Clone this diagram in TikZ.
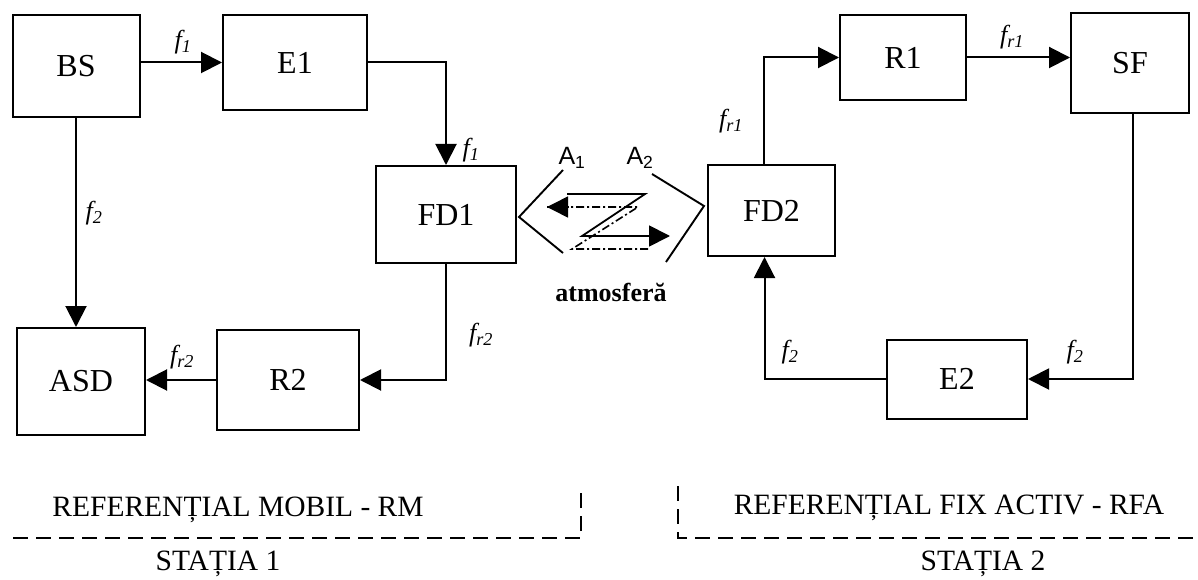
\documentclass[tikz,border=0pt]{standalone}
\usepackage{fontspec}
\setmainfont{Liberation Serif}
\newfontfamily\labelsans{Liberation Sans}
\usetikzlibrary{arrows.meta}
\tikzset{
  blk/.style={draw, line width=2pt, rectangle, inner sep=0pt,
    font=\fontsize{32}{36}\selectfont},
  wire/.style={line width=2pt},
  arr/.style={wire, -{Triangle[length=21pt,width=21pt]}},
  flabel/.style={font=\fontsize{26}{30}\selectfont\itshape, inner sep=0pt},
  alabel/.style={font=\fontsize{25}{29}\labelsans, inner sep=0pt},
  ant/.style={line width=1.9pt},
  dashdot/.style={line width=1.6pt, dash pattern=on 8pt off 3pt on 2pt off 3pt},
  frame/.style={line width=1.8pt, dash pattern=on 15pt off 8pt},
  reftext/.style={font=\fontsize{29.5}{34}\selectfont, anchor=base, inner sep=0pt}
}
\newcommand{\fsub}[2]{#1\textsubscript{#2}}
\begin{document}
\begin{tikzpicture}[x=1pt,y=-1pt]
\useasboundingbox (0,0) rectangle (1198,580);

% station 1 blocks
\node[blk, minimum width=127pt, minimum height=102pt] (bs)  at (76,66)    {BS};
\node[blk, minimum width=144pt, minimum height=95pt]  (e1)  at (295,62.5) {E1};
\node[blk, minimum width=140pt, minimum height=97pt]  (fd1) at (446,214.5){FD1};
\node[blk, minimum width=128pt, minimum height=107pt] (asd) at (81,381.5) {ASD};
\node[blk, minimum width=142pt, minimum height=100pt] (r2)  at (288,380)  {R2};

% station 2 blocks
\node[blk, minimum width=127pt, minimum height=91pt]  (fd2) at (771.5,210.5){FD2};
\node[blk, minimum width=126pt, minimum height=85pt]  (r1)  at (903,57.5) {R1};
\node[blk, minimum width=118pt, minimum height=100pt] (sf)  at (1130,63)  {SF};
\node[blk, minimum width=140pt, minimum height=79pt]  (e2)  at (957,379)  {E2};

% station 1 connections
\draw[arr] (bs.east |- e1) -- (e1.west);
\draw[arr] (e1.east) -| (fd1.north);
\draw[arr] (bs.south) -- (bs.south |- asd.north);
\draw[arr] (fd1.south) |- (r2.east);
\draw[arr] (r2.west) -- (asd.east |- r2);

% station 2 connections
\draw[arr] ([xshift=-8pt]fd2.north) |- (r1.west);
\draw[arr] (r1.east) -- (sf.west |- r1);
\draw[arr] ([xshift=3pt]sf.south) |- (e2.east);
\draw[arr] (e2.west) -| ([xshift=-7pt]fd2.south);

% frequency labels
\node[flabel] (lf1a) at (183,42)  {\fsub{f}{1}};
\node[flabel] (lf1b) at (471,150) {\fsub{f}{1}};
\node[flabel] (lf2a) at (94,213)  {\fsub{f}{2}};
\node[flabel] (lfr2a) at (182,357) {\fsub{f}{r2}};
\node[flabel] (lfr2b) at (481,335) {\fsub{f}{r2}};
\node[flabel] (lfr1a) at (731,121) {\fsub{f}{r1}};
\node[flabel] (lfr1b) at (1012,37) {\fsub{f}{r1}};
\node[flabel] (lf2b) at (790,352)  {\fsub{f}{2}};
\node[flabel] (lf2c) at (1075,352) {\fsub{f}{2}};

% antennas
\coordinate (a1top) at (563,170);
\coordinate (a1tip) at (519,217);
\coordinate (a1bot) at (563,253);
\coordinate (a2top) at (652,174);
\coordinate (a2tip) at (704,206);
\coordinate (a2bot) at (666,262);
\draw[ant] (a1top) -- (a1tip) -- (a1bot);
\draw[ant] (a2top) -- (a2tip) -- (a2bot);
\node[alabel] (la1) at (572,158) {A\textsubscript{1}};
\node[alabel] (la2) at (640,158) {A\textsubscript{2}};

% radio path through the atmosphere
\coordinate (z1) at (567,194);
\coordinate (z2) at (645,194);
\coordinate (z3) at (582,236);
\coordinate (z4) at (670,236);
\draw[arr, line width=1.8pt] (z1) -- (z2) -- (z3) -- (z4);
\coordinate (d1) at (648,249);
\coordinate (d2) at (572,249);
\coordinate (d3) at (638,207);
\coordinate (d4) at (547,207);
\draw[dashdot] (d1) -- (d2) -- (d3) -- (d4);
\draw[-{Triangle[length=21pt,width=21pt]}, line width=1.6pt] (569,207) -- (d4);
\node[font=\fontsize{26}{30}\selectfont\bfseries, inner sep=0pt] (atm) at (611,292) {atmosferă};

% reference frames
\coordinate (f1a) at (13,538);
\coordinate (f1b) at (581,538);
\coordinate (f1c) at (581,487);
\draw[frame] (f1a) -- (f1b) -- (f1c);
\coordinate (f2a) at (678,486);
\coordinate (f2b) at (678,538);
\coordinate (f2c) at (1198,538);
\draw[frame] (f2a) -- (f2b) -- (f2c);

\node[reftext] (rm)  at (238,516) {REFERENȚIAL MOBIL - RM};
\node[reftext] (st1) at (218,570) {STAȚIA 1};
\node[reftext] (rfa) at (949,514) {REFERENȚIAL FIX ACTIV - RFA};
\node[reftext] (st2) at (983,570) {STAȚIA 2};
\end{tikzpicture}
\end{document}
